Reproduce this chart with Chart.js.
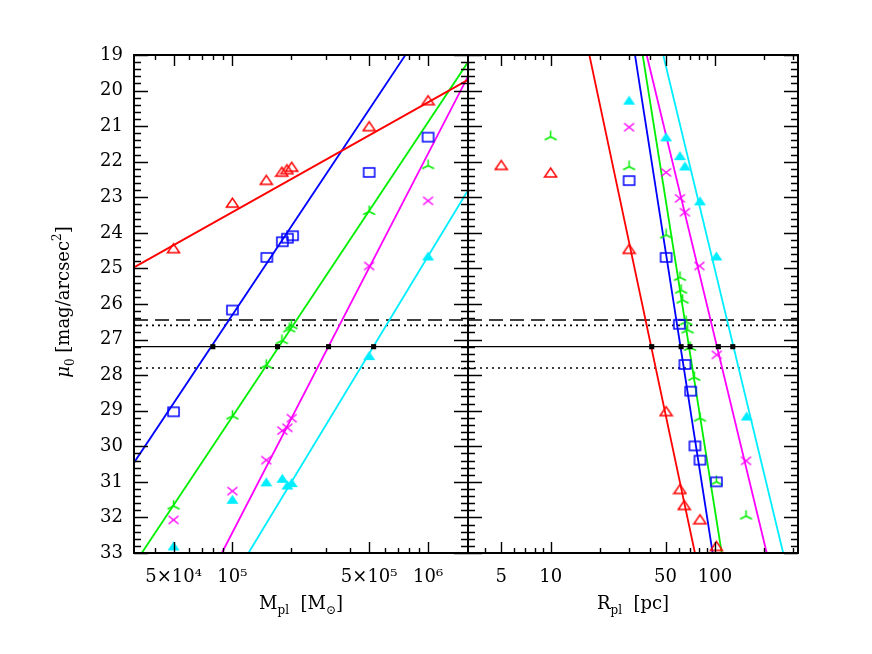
<!DOCTYPE html>
<html>
<head>
<meta charset="utf-8">
<script src="https://cdn.jsdelivr.net/npm/chart.js@4.4.1/dist/chart.umd.min.js"></script>
<style>
  html, body { margin: 0; padding: 0; background: #fff; }
  #wrap { position: relative; width: 872px; height: 654px; }
  #wrap canvas { position: absolute; left: 0; top: 0; }
</style>
</head>
<body>
<div id="wrap">
  <canvas id="massChart" width="872" height="654"></canvas>
  <canvas id="radiusChart" width="872" height="654"></canvas>
</div>
<script>
// axis ranges and tick labels
const muRange = [19, 33];
const massRange = [3.14e4, 1.6e6];
const radiusRange = [3.14, 320];
const massTicks = [5e4, 1e5, 5e5, 1e6];
const massTickLabels = ['5×10⁴', '10⁵', '5×10⁵', '10⁶'];
const radiusTicks = [5, 10, 50, 100];
const radiusTickLabels = ['5', '10', '50', '100'];

// reference surface brightness levels
const muMid = 27.2;
const muDotted = [26.6, 27.8];
const muDashed = 26.45;

// left panel: mu0 vs mass  [M, mu0]
const redMass = [[5e4, 24.43], [1e5, 23.15], [1.49e5, 22.51], [1.79e5, 22.28], [1.9e5, 22.21], [2.01e5, 22.14], [5e5, 21.0], [1e6, 20.27]];
const blueMass = [[5e4, 29.03], [1e5, 26.17], [1.5e5, 24.69], [1.8e5, 24.25], [1.91e5, 24.15], [2.03e5, 24.08], [5e5, 22.30], [1e6, 21.31]];
const greenMass = [[5e4, 31.68], [1e5, 29.15], [1.49e5, 27.72], [1.79e5, 27.03], [1.95e5, 26.70], [2.0e5, 26.61], [5e5, 23.40], [1e6, 22.11]];
const magentaMass = [[5e4, 32.07], [1e5, 31.26], [1.49e5, 30.39], [1.8e5, 29.56], [1.91e5, 29.48], [2.01e5, 29.21], [5e5, 24.93], [1e6, 23.10]];
const cyanMass = [[5e4, 32.80], [1e5, 31.49], [1.49e5, 31.0], [1.8e5, 30.90], [1.91e5, 31.09], [2.01e5, 31.02], [5e5, 27.45], [1e6, 24.65]];

// left panel fitted relations (end points)
const redMassFit = [[3.14e4, 24.97], [1.6e6, 19.70]];
const blueMassFit = [[3.14e4, 30.46], [7.66e5, 19.0]];
const greenMassFit = [[3.44e4, 33.0], [1.6e6, 19.20]];
const magentaMassFit = [[8.83e4, 33.0], [1.6e6, 19.60]];
const cyanMassFit = [[1.208e5, 33.0], [1.6e6, 22.80]];
const massCross = [7.94e4, 1.70e5, 3.10e5, 5.27e5];

// right panel: mu0 vs radius  [R, mu0]
const redRad = [[5, 22.09], [10, 22.30], [30, 24.45], [50.4, 29.01], [61.2, 31.20], [65, 31.65], [81, 32.05], [102, 32.80]];
const blueRad = [[30, 22.53], [50.4, 24.69], [60.7, 26.57], [65.6, 27.70], [71.1, 28.45], [75.5, 29.99], [81, 30.39], [102, 31.0]];
const greenRad = [[10, 21.30], [30, 22.14], [50.4, 24.06], [61.2, 25.25], [62.2, 25.61], [63.5, 25.89], [66.7, 26.50], [68.2, 26.73], [70.5, 27.22], [74.8, 28.06], [81, 29.21], [102, 31.0], [154.5, 31.96]];
const magentaRad = [[30, 21.03], [50.4, 22.30], [61.2, 23.03], [65.6, 23.42], [80.4, 24.93], [102.5, 27.43], [154.5, 30.41]];
const cyanRad = [[30, 20.27], [50.4, 21.30], [61.2, 21.83], [65.6, 22.12], [81, 23.10], [102, 24.65], [156, 29.15]];

// right panel fitted relations (end points)
const redRadFit = [[17.2, 19], [75.5, 33]];
const blueRadFit = [[32.6, 19], [96.8, 33]];
const greenRadFit = [[36.3, 19], [109.9, 33]];
const magentaRadFit = [[38.4, 19], [206.5, 33]];
const cyanRadFit = [[48.4, 19], [260, 33]];
const radiusCross = [41.2, 62.2, 70.5, 104.8, 128.3];

const RED = '#ff0000', BLUE = '#0000ff', GREEN = '#00ee00', MAGENTA = '#ff00ff', CYAN = '#00eeff';
const SERIF = '"DejaVu Serif", "Liberation Serif", serif';

// marker glyphs drawn on small canvases
function marker(kind, color) {
    const c = document.createElement('canvas');
    c.width = 15; c.height = 13;
    const g = c.getContext('2d');
    g.strokeStyle = color;
    g.fillStyle = color;
    g.lineWidth = 1.5;
    g.beginPath();
    if (kind === 'tri' || kind === 'triFill') {
        g.moveTo(1.5, 11); g.lineTo(7.5, 2); g.lineTo(13.5, 11); g.closePath();
        if (kind === 'triFill') g.fill(); else g.stroke();
    } else if (kind === 'square') {
        g.rect(2, 2, 11, 9);
        g.stroke();
    } else if (kind === 'cross') {
        g.moveTo(2.5, 2.5); g.lineTo(12.5, 10.5);
        g.moveTo(2.5, 10.5); g.lineTo(12.5, 2.5);
        g.stroke();
    } else if (kind === 'tripod') {
        g.moveTo(7.5, 6.5); g.lineTo(7.5, 0.5);
        g.moveTo(7.5, 6.5); g.lineTo(1.5, 9.5);
        g.moveTo(7.5, 6.5); g.lineTo(13.5, 9.5);
        g.stroke();
    }
    return c;
}

const pts = arr => arr.map(p => ({ x: p[0], y: p[1] }));

function fitSet(arr, color) {
    return { data: pts(arr), showLine: true, borderColor: color, borderWidth: 1.8, pointRadius: 0, order: 3 };
}
function markSet(arr, style) {
    return { data: pts(arr), showLine: false, pointStyle: style, pointRadius: 5, clip: 8, order: 1 };
}
function levelSet(mu, range, dash) {
    return {
        data: [{ x: range[0], y: mu }, { x: range[1], y: mu }],
        showLine: true, borderColor: '#000', borderWidth: dash ? 1.6 : 1.3,
        borderDash: dash || [], pointRadius: 0, order: 4
    };
}
function crossSet(xs) {
    return {
        data: xs.map(x => ({ x: x, y: muMid })), showLine: false,
        pointStyle: 'rect', pointRadius: 3.6, backgroundColor: '#000', borderColor: '#000', borderWidth: 0, order: 0
    };
}

// frame plus inward ticks on all four sides
const frameTicks = {
    id: 'frameTicks',
    afterDatasetsDraw(chart) {
        const { ctx, chartArea: a } = chart;
        const xs = chart.scales.x, ys = chart.scales.y;
        ctx.save();
        ctx.strokeStyle = '#000';
        ctx.lineWidth = 1.4;
        ctx.beginPath();
        for (let i = 0; i <= 70; i++) {
            const y = Math.round(ys.getPixelForValue(muRange[0] + i * 0.2)) + 0.5;
            const len = i % 5 === 0 ? 14 : 7;
            ctx.moveTo(a.left, y); ctx.lineTo(a.left + len, y);
            ctx.moveTo(a.right, y); ctx.lineTo(a.right - len, y);
        }
        const lo = Math.floor(Math.log10(xs.min)), hi = Math.ceil(Math.log10(xs.max));
        for (let k = lo; k <= hi; k++) {
            for (let n = 1; n <= 9; n++) {
                const v = n * Math.pow(10, k);
                if (v < xs.min || v > xs.max) continue;
                const x = Math.round(xs.getPixelForValue(v)) + 0.5;
                const len = (n === 1 || n === 5) ? 11 : 5;
                ctx.moveTo(x, a.top); ctx.lineTo(x, a.top + len);
                ctx.moveTo(x, a.bottom); ctx.lineTo(x, a.bottom - len);
            }
        }
        ctx.stroke();
        ctx.lineWidth = 2;
        ctx.strokeRect(a.left, a.top, a.right - a.left, a.bottom - a.top);
        ctx.restore();
    }
};

function drawRich(ctx, parts, x, y) {
    let total = 0;
    parts.forEach(p => { ctx.font = p.font; total += ctx.measureText(p.t).width; });
    let cx = x - total / 2;
    parts.forEach(p => {
        ctx.font = p.font;
        ctx.fillText(p.t, cx, y + (p.dy || 0));
        cx += ctx.measureText(p.t).width;
    });
}

const BIG = '18px ' + SERIF, SMALL = '12px ' + SERIF;

const axisTitles = {
    id: 'axisTitles',
    afterDraw(chart, args, opts) {
        const { ctx, chartArea: a } = chart;
        ctx.save();
        ctx.fillStyle = '#000';
        ctx.textBaseline = 'alphabetic';
        ctx.textAlign = 'left';
        drawRich(ctx, opts.xParts, (a.left + a.right) / 2, 609);
        if (opts.yParts) {
            ctx.translate(63, 302);
            ctx.rotate(-Math.PI / 2);
            drawRich(ctx, opts.yParts, 0, 6);
        }
        ctx.restore();
    }
};

function baseOptions(xRange, ticks, labels, padLeft, padRight, showY) {
    return {
        responsive: false,
        animation: false,
        events: [],
        layout: { padding: { left: padLeft, right: padRight, top: 55, bottom: 0 } },
        scales: {
            x: {
                type: 'logarithmic', min: xRange[0], max: xRange[1],
                grid: { display: false, drawTicks: false }, border: { display: false },
                afterBuildTicks: s => { s.ticks = ticks.map(v => ({ value: v })); },
                afterFit: s => { s.height = 101; },
                ticks: {
                    autoSkip: false, maxRotation: 0, padding: 14, color: '#000',
                    font: { family: SERIF, size: 18 },
                    callback: (v, i) => labels[i]
                }
            },
            y: {
                type: 'linear', reverse: true, min: muRange[0], max: muRange[1],
                grid: { display: false, drawTicks: false }, border: { display: false },
                afterFit: s => { s.width = showY ? 134 : 0; },
                ticks: {
                    display: showY, stepSize: 1, padding: 11, color: '#000',
                    font: { family: SERIF, size: 18 }
                }
            }
        }
    };
}

const massOpts = baseOptions(massRange, massTicks, massTickLabels, 0, 872 - 468, true);
massOpts.plugins = {
    legend: { display: false }, tooltip: { enabled: false },
    axisTitles: {
        xParts: [
            { t: 'M', font: BIG }, { t: 'pl', font: SMALL, dy: 5 },
            { t: '  [M', font: BIG }, { t: '⊙', font: SMALL, dy: 5 }, { t: ']', font: BIG }
        ],
        yParts: [
            { t: 'μ', font: 'italic ' + BIG }, { t: '0', font: SMALL, dy: 5 },
            { t: ' [mag/arcsec', font: BIG }, { t: '2', font: SMALL, dy: -8 }, { t: ']', font: BIG }
        ]
    }
};

new Chart(document.getElementById('massChart'), {
    type: 'scatter',
    data: {
        datasets: [
            levelSet(muMid, massRange),
            levelSet(muDotted[0], massRange, [2, 4]),
            levelSet(muDotted[1], massRange, [2, 4]),
            levelSet(muDashed, massRange, [14, 7]),
            fitSet(redMassFit, RED),
            fitSet(blueMassFit, BLUE),
            fitSet(greenMassFit, GREEN),
            fitSet(magentaMassFit, MAGENTA),
            fitSet(cyanMassFit, CYAN),
            markSet(redMass, marker('tri', RED)),
            markSet(blueMass, marker('square', BLUE)),
            markSet(greenMass, marker('tripod', GREEN)),
            markSet(magentaMass, marker('cross', MAGENTA)),
            markSet(cyanMass, marker('triFill', CYAN)),
            crossSet(massCross)
        ]
    },
    options: massOpts,
    plugins: [frameTicks, axisTitles]
});

const radOpts = baseOptions(radiusRange, radiusTicks, radiusTickLabels, 468, 872 - 798, false);
radOpts.plugins = {
    legend: { display: false }, tooltip: { enabled: false },
    axisTitles: {
        xParts: [
            { t: 'R', font: BIG }, { t: 'pl', font: SMALL, dy: 5 },
            { t: '  [pc]', font: BIG }
        ]
    }
};

new Chart(document.getElementById('radiusChart'), {
    type: 'scatter',
    data: {
        datasets: [
            levelSet(muMid, radiusRange),
            levelSet(muDotted[0], radiusRange, [2, 4]),
            levelSet(muDotted[1], radiusRange, [2, 4]),
            levelSet(muDashed, radiusRange, [14, 7]),
            fitSet(redRadFit, RED),
            fitSet(blueRadFit, BLUE),
            fitSet(greenRadFit, GREEN),
            fitSet(magentaRadFit, MAGENTA),
            fitSet(cyanRadFit, CYAN),
            markSet(redRad, marker('tri', RED)),
            markSet(blueRad, marker('square', BLUE)),
            markSet(greenRad, marker('tripod', GREEN)),
            markSet(magentaRad, marker('cross', MAGENTA)),
            markSet(cyanRad, marker('triFill', CYAN)),
            crossSet(radiusCross)
        ]
    },
    options: radOpts,
    plugins: [frameTicks, axisTitles]
});
</script>
</body>
</html>
